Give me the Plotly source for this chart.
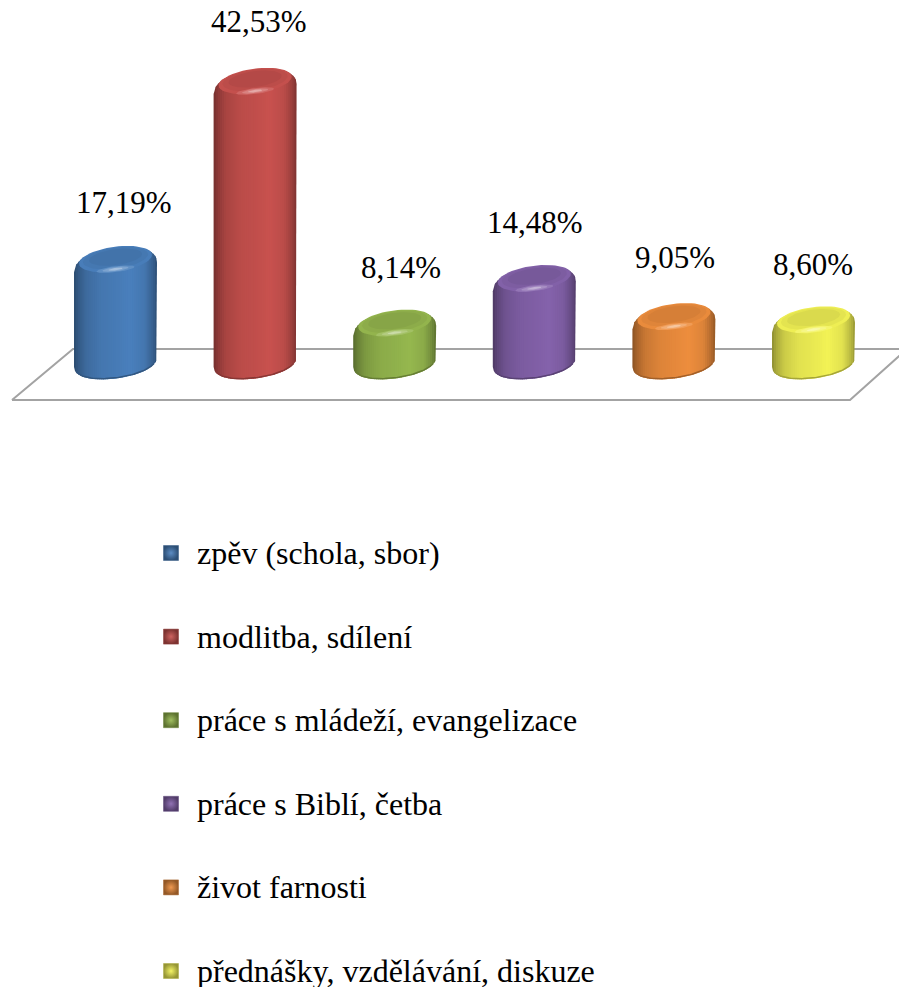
import numpy as np
import plotly.graph_objects as go

categories = ["zpěv (schola, sbor)", "modlitba, sdílení", "práce s mládeží, evangelizace",
              "práce s Biblí, četba", "život farnosti", "přednášky, vzdělávání, diskuze"]
values = [17.19, 42.53, 8.14, 14.48, 9.05, 8.60]
colors = ["#4A80BD", "#C9524F", "#96B84F", "#8563AC", "#EE8E3E", "#F3F356"]
label_dx = [8, 4, 6, 1, 1, -1]
label_dy = [56, 59, 54, 55, 58, 54]

W, H = 907, 987
BODY = 8                         # the page's default body margin
PX_X0, PX_DX = 115.5, 139.6      # page pixel of category 0, pixels per category
PX_Y0, PX_DY = 379.0, 7.03       # page pixel of value 0, pixels per value unit
BASE = 1.7
HALF_W = 41.5
B, SHEAR = 13.0, 5.0
N_STRIPS = 40
FONT = "Liberation Serif"
KEY_X, KEY_TEXT_X = 171, 197     # page pixels of the key squares and key texts
KEY_Y0, KEY_STEP = 553, 83.6


def sx(px):
    return px / PX_DX


def sy(px):
    return px / PX_DY


def data_x(px):
    return (px - PX_X0) / PX_DX


def data_y(px):
    return (PX_Y0 - px) / PX_DY


def shade(col, f):
    c = np.array([int(col[i:i + 2], 16) for i in (1, 3, 5)], float)
    c = c * f if f <= 1 else c + (255 - c) * (f - 1)
    return "rgb(%d,%d,%d)" % tuple(np.clip(c, 0, 255))


def envelope(dx, radius, depth):
    """Outer height above the centre plane of a bevelled sheared ellipse."""
    th = np.linspace(0, np.pi / 2, 24)
    best = np.full_like(dx, -1e9, dtype=float)
    for t in th:
        a = HALF_W - radius * (1 - np.cos(t))
        b = B * a / HALF_W
        inside = np.abs(dx) <= a + 1e-9
        h = np.where(inside, depth * np.sin(t) + b * np.sqrt(np.clip(1 - (dx / a) ** 2, 0, 1)), -1e9)
        best = np.maximum(best, h)
    return best


def add_ellipse(fig, i, val, dy_px, a, b, col):
    t = np.linspace(0, 2 * np.pi, 60)
    xs = i + sx(a * np.cos(t))
    ys = val - sy(dy_px) + sy(b * np.sin(t) + SHEAR * a / HALF_W * np.cos(t))
    fig.add_trace(go.Scatter(x=xs, y=ys, mode="lines", fill="toself", fillcolor=col,
                             line=dict(width=0, color=col), hoverinfo="skip", showlegend=False))


fig = go.Figure()

# floor of the 3-D plot
floor_px = [(12, 400), (850, 400), (907, 349), (73, 349), (12, 400)]
fig.add_trace(go.Scatter(x=[data_x(p[0]) for p in floor_px],
                         y=[data_y(p[1]) for p in floor_px],
                         mode="lines", line=dict(color="#a3a3a3", width=2),
                         hoverinfo="skip", showlegend=False))

edges = np.linspace(-HALF_W, HALF_W, N_STRIPS + 1)
shade_u = [-1.0, -0.9, -0.7, -0.35, 0.1, 0.35, 0.7, 0.9, 1.0]
shade_f = [0.58, 0.7, 0.84, 0.93, 0.97, 1.0, 0.93, 0.76, 0.62]
TOP_R, TOP_D = 10.0, 9.0
BOT_R, BOT_D = 6.0, 5.0

for i, (val, col) in enumerate(zip(values, colors)):
    for k in range(N_STRIPS):
        l, r = edges[k], min(edges[k + 1] + 1.0, HALF_W)
        dxs = np.linspace(l, r, 4)
        top = envelope(dxs, TOP_R, TOP_D) - TOP_D          # px above top centre
        bot = envelope(dxs, BOT_R, BOT_D) - BOT_D          # px below base centre
        rise = SHEAR * dxs / HALF_W
        y_top = val + sy(top + rise)
        y_bot = BASE + sy(rise - bot)
        u = (edges[k] + edges[k + 1]) / 2 / HALF_W
        f = float(np.interp(u, shade_u, shade_f))
        c = shade(col, f)
        fig.add_trace(go.Scatter(x=np.r_[i + sx(dxs), i + sx(dxs[::-1])],
                                 y=np.r_[y_top, y_bot[::-1]],
                                 mode="lines", fill="toself", fillcolor=c,
                                 line=dict(width=0, color=c), hoverinfo="skip", showlegend=False))
    # darker lower edge of the cylinder
    dxs = np.linspace(-HALF_W + 3, HALF_W - 3, 50)
    fig.add_trace(go.Scatter(x=i + sx(dxs),
                             y=BASE + sy(SHEAR * dxs / HALF_W - envelope(dxs, BOT_R, BOT_D) + BOT_D + 0.7),
                             mode="lines", line=dict(width=1.5, color=shade(col, 0.68)),
                             hoverinfo="skip", showlegend=False))
    # top face
    add_ellipse(fig, i, val, 1.0, HALF_W - 5, B - 0.5, shade(col, 0.98))
    add_ellipse(fig, i, val, 0.0, HALF_W - 9, B - 2.5, shade(col, 0.94))
    add_ellipse(fig, i, val, -1.0, HALF_W - 15, B - 5, shade(col, 0.9))
    # specular highlight at the front of the rim
    add_ellipse(fig, i, val, 11.0, 19, 3.0, shade(col, 1.12))
    add_ellipse(fig, i, val, 11.0, 13, 2.1, shade(col, 1.28))
    add_ellipse(fig, i, val, 11.0, 7, 1.2, shade(col, 1.5))

annotations = [dict(x=i, y=v, xref="x", yref="y",
                    text=f"{v:.2f}".replace(".", ",") + "%",
                    xshift=dx, yshift=dy, showarrow=False, xanchor="center", yanchor="middle",
                    font=dict(family=FONT, size=31, color="#000000"))
               for i, (v, dx, dy) in enumerate(zip(values, label_dx, label_dy))]

# key squares and their texts
for j, (name, col) in enumerate(zip(categories, colors)):
    row = KEY_Y0 + j * KEY_STEP
    fig.add_trace(go.Scatter(x=[data_x(KEY_X)], y=[data_y(row)], mode="markers", name=name,
                             marker=dict(symbol="square", size=15, color=shade(col, 0.62),
                                         gradient=dict(type="radial", color=shade(col, 1.1)),
                                         line=dict(width=0.5, color=shade(col, 0.7))),
                             hoverinfo="skip", showlegend=False))
    annotations.append(dict(x=data_x(KEY_TEXT_X), y=data_y(row), xref="x", yref="y", text=name,
                            showarrow=False, xanchor="left", yanchor="middle", xshift=-2,
                            font=dict(family=FONT, size=32, color="#000000")))

fig.update_layout(
    width=W - BODY, height=H - BODY, margin=dict(l=0, r=0, t=0, b=0), autosize=False,
    paper_bgcolor="white", plot_bgcolor="white",
    xaxis=dict(visible=False, range=[data_x(BODY), data_x(W)], fixedrange=True),
    yaxis=dict(visible=False, range=[data_y(H), data_y(BODY)], fixedrange=True),
    annotations=annotations,
    showlegend=False,
)
fig.write_html("out.html")
